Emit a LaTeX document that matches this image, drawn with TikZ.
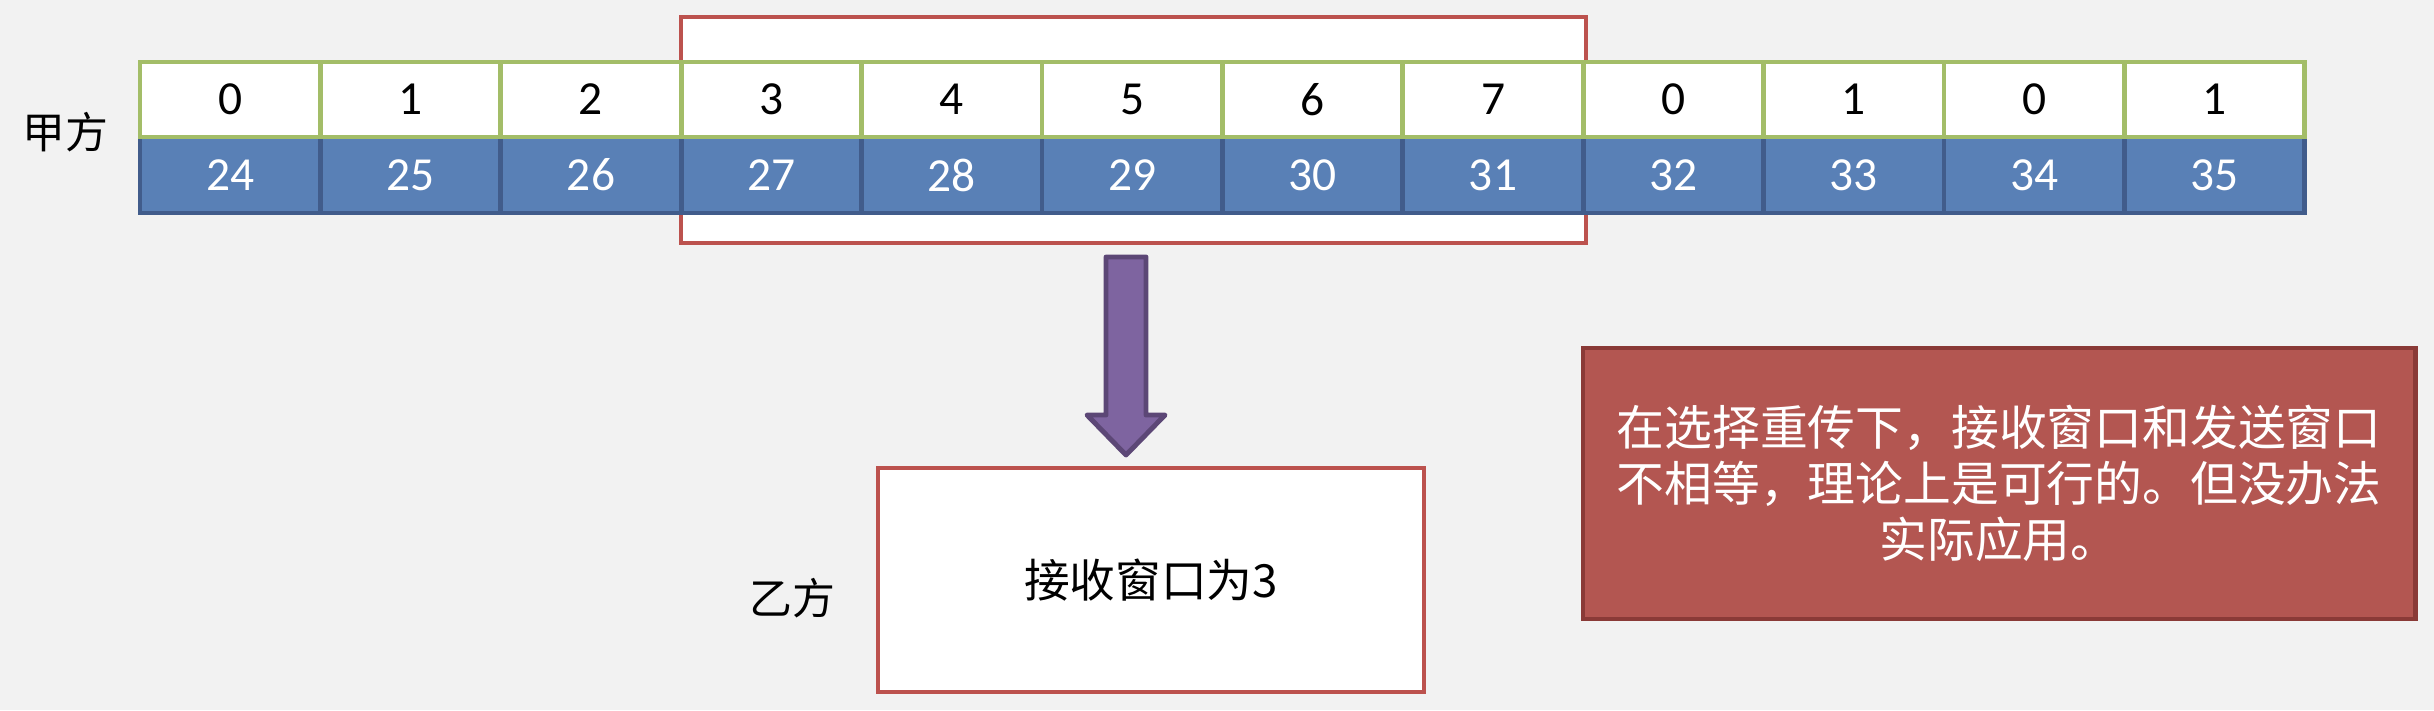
\documentclass[tikz,border=0pt]{standalone}
\usepackage{fontspec}
\newfontfamily\cjk{Noto Sans CJK SC}
\newfontfamily\numfont{Carlito}
\usetikzlibrary{positioning}

\definecolor{bgGray}{HTML}{F2F2F2}
\definecolor{seqGreen}{HTML}{A3BD68}
\definecolor{numBlue}{HTML}{5980B6}
\definecolor{numBlueDark}{HTML}{415C8B}
\definecolor{winRed}{HTML}{BC524E}
\definecolor{noteRed}{HTML}{B35651}
\definecolor{noteRedDark}{HTML}{8A3A37}
\definecolor{arrowPurple}{HTML}{7E64A0}
\definecolor{arrowPurpleDark}{HTML}{5C4776}

\begin{document}
\begin{tikzpicture}[node distance=1.804cm,line width=1.4pt,
  seq node/.style={draw=seqGreen,fill=white,inner sep=0pt,minimum width=1.804cm,minimum height=0.75cm,font=\numfont\fontsize{13.5}{15}\selectfont},
  num node/.style={draw=numBlueDark,fill=numBlue,text=white,inner sep=0pt,minimum width=1.804cm,minimum height=0.76cm,font=\numfont\fontsize{13.5}{15}\selectfont},
  side label/.style={font=\cjk\fontsize{12.2}{14}\selectfont},
  recv box/.style={draw=winRed,fill=white,minimum width=5.46cm,minimum height=2.24cm,font=\cjk\fontsize{13}{15}\selectfont},
  note box/.style={draw=noteRedDark,fill=noteRed,text=white,minimum width=8.32cm,minimum height=2.71cm,align=center,font=\cjk\fontsize{13.6}{15.9}\selectfont}]

 \fill[bgGray] (0,0) rectangle (24.34,-7.10);
 \useasboundingbox (0,0) rectangle (24.34,-7.10);

 % sending window
 \draw[winRed,fill=white] (6.81,-0.17) rectangle (15.86,-2.43);

 \node[num node] (24) at (2.302,-1.75) {24};
 \node[num node] (25) [right of=24] {25};
 \node[num node] (26) [right of=25] {26};
 \node[num node] (27) [right of=26] {27};
 \node[num node] (28) [right of=27] {28};
 \node[num node] (29) [right of=28] {29};
 \node[num node] (30) [right of=29] {30};
 \node[num node] (31) [right of=30] {31};
 \node[num node] (32) [right of=31] {32};
 \node[num node] (33) [right of=32] {33};
 \node[num node] (34) [right of=33] {34};
 \node[num node] (35) [right of=34] {35};

 \node[seq node] (s24) [above of=24,node distance=0.755cm] {0};
 \node[seq node] (s25) [right of=s24] {1};
 \node[seq node] (s26) [right of=s25] {2};
 \node[seq node] (s27) [right of=s26] {3};
 \node[seq node] (s28) [right of=s27] {4};
 \node[seq node] (s29) [right of=s28] {5};
 \node[seq node] (s30) [right of=s29] {6};
 \node[seq node] (s31) [right of=s30] {7};
 \node[seq node] (s32) [right of=s31] {0};
 \node[seq node] (s33) [right of=s32] {1};
 \node[seq node] (s34) [right of=s33] {0};
 \node[seq node] (s35) [right of=s34] {1};

 \node[side label] (jia) at (0.65,-1.32) {甲方};

 % down arrow
 \draw[arrowPurpleDark,fill=arrowPurple,line join=round] (11.06,-2.57) -- (11.46,-2.57) -- (11.46,-4.15) -- (11.65,-4.15)
   -- (11.26,-4.55) -- (10.87,-4.15) -- (11.06,-4.15) -- cycle;

 \node[recv box] (recv) at (11.51,-5.80) {接收窗口为3};
 \node[side label] (yi) at (7.92,-5.98) {乙方};

 \node[note box] (note) at (19.99,-4.835) {在选择重传下，接收窗口和发送窗口\\不相等，理论上是可行的。但没办法\\实际应用。};

\end{tikzpicture}
\end{document}
